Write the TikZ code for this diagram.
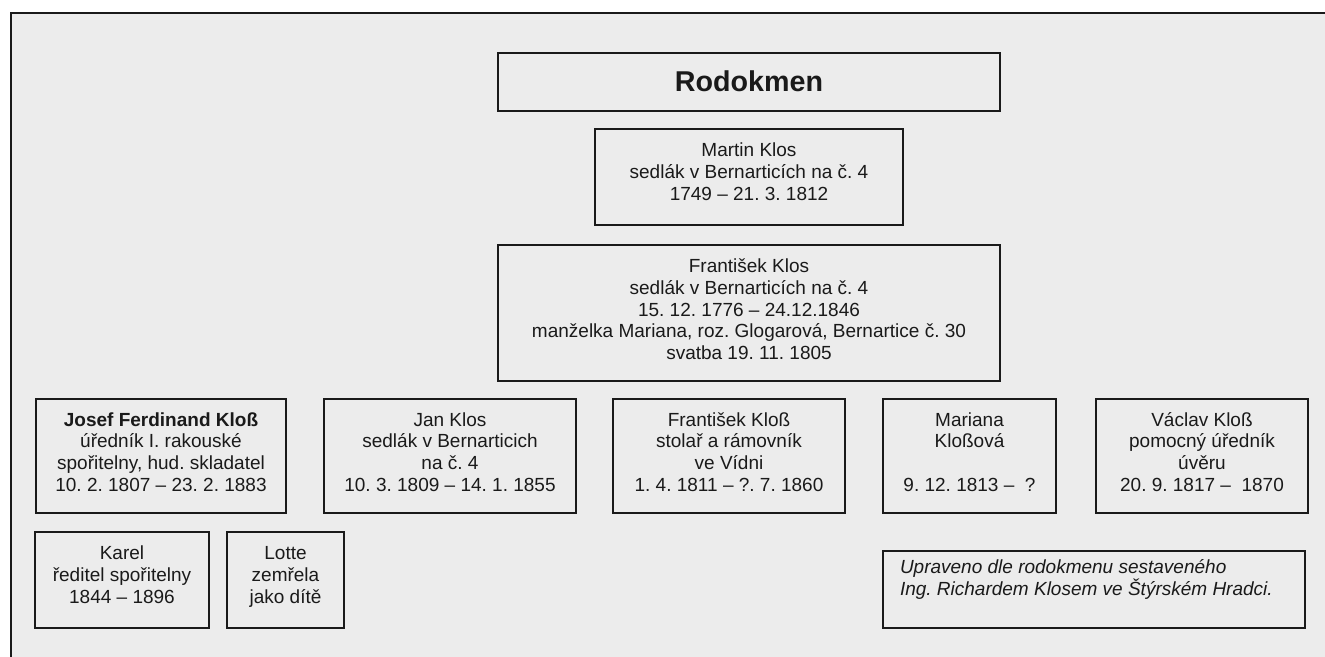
\documentclass[tikz,border=0pt]{standalone}
\usepackage{fontspec}
\setmainfont{Liberation Sans}
\frenchspacing
\definecolor{bg}{RGB}{236,236,236}
\definecolor{ink}{RGB}{26,26,26}
\newcommand{\hs}{\rule{0pt}{14pt}}
\newcommand{\ds}{\rule[-14pt]{0pt}{14pt}}
\tikzset{
  pbox/.style={draw=ink, line width=1.4pt, rectangle, inner sep=0pt, outer sep=0pt},
  titlebox/.style={pbox, line width=2.1pt},
  ptext/.style={align=center, inner sep=0pt, outer sep=0pt, text=ink,
    font=\fontsize{14.25pt}{16.3pt}\selectfont\frenchspacing},
  notetext/.style={align=left, inner sep=0pt, outer sep=0pt, text=ink,
    font=\fontsize{14.25pt}{16.3pt}\selectfont\itshape\frenchspacing},
  titletext/.style={inner sep=0pt, outer sep=0pt, text=ink,
    font=\fontsize{21.5pt}{24pt}\selectfont\bfseries},
  frameline/.style={draw=ink, line width=1.1pt}
}
\begin{document}
\begin{tikzpicture}[x=0.75pt,y=-0.75pt]
\useasboundingbox (0,0) rectangle (1325,657);
\fill[white] (0,0) rectangle (1325,657);
\fill[bg] (11,13) rectangle (1325,657);
\coordinate (fTR) at (1325,13);
\coordinate (fTL) at (11,13);
\coordinate (fBL) at (11,657);
\draw[frameline] (fTR) -- (fTL) -- (fBL);

% title
\node[titlebox, minimum width=376.5pt, minimum height=43.5pt] (title) at (749,82) {};
\node[titletext, anchor=base] (titleT) at (749,91.7) {Rodokmen};

% Martin
\node[pbox, minimum width=231pt, minimum height=72pt] (martin) at (749,177) {};
\node[ptext] (martinT) at (749,178.3) {\hs Martin Klos\\sedlák v Bernarticích na č. 4\\1749 – 21. 3. 1812\ds};

% František
\node[pbox, minimum width=376.5pt, minimum height=102pt] (frantisek) at (749,313) {};
\node[ptext] (frantisekT) at (749,316) {\hs František Klos\\sedlák v Bernarticích na č. 4\\15. 12. 1776 – 24.12.1846\\manželka Mariana, roz. Glogarová, Bernartice č. 30\\svatba 19. 11. 1805\ds};

% children row
\node[pbox, minimum width=187.5pt, minimum height=85.5pt] (josef) at (161,456) {};
\node[ptext] (josefT) at (161,458.7) {\hs\textbf{Josef Ferdinand Kloß}\\úředník I. rakouské\\spořitelny, hud. skladatel\\10. 2. 1807 – 23. 2. 1883\ds};

\node[pbox, minimum width=189pt, minimum height=85.5pt] (jan) at (450,456) {};
\node[ptext] (janT) at (450,458.7) {\hs Jan Klos\\sedlák v Bernarticich\\na č. 4\\10. 3. 1809 – 14. 1. 1855\ds};

\node[pbox, minimum width=174pt, minimum height=85.5pt] (frk) at (729,456) {};
\node[ptext] (frkT) at (729,458.7) {\hs František Kloß\\stolař a rámovník\\ve Vídni\\1. 4. 1811 – ?. 7. 1860\ds};

\node[pbox, minimum width=129.75pt, minimum height=85.5pt] (mariana) at (969.5,456) {};
\node[ptext] (marianaT) at (969.5,458.7) {\hs Mariana\\Kloßová\\[16.3pt]9. 12. 1813 –~ ?\ds};

\node[pbox, minimum width=159pt, minimum height=85.5pt] (vaclav) at (1202,456) {};
\node[ptext] (vaclavT) at (1202,458.7) {\hs Václav Kloß\\pomocný úředník\\úvěru\\20. 9. 1817 –~ 1870\ds};

% grandchildren
\node[pbox, minimum width=130.5pt, minimum height=72pt] (karel) at (122,580) {};
\node[ptext] (karelT) at (122,581.3) {\hs Karel\\ředitel spořitelny\\1844 – 1896\ds};

\node[pbox, minimum width=87.75pt, minimum height=72pt] (lotte) at (285.5,580) {};
\node[ptext] (lotteT) at (285.5,581.3) {\hs Lotte\\zemřela\\jako dítě\ds};

% note
\node[pbox, minimum width=316.5pt, minimum height=57.75pt] (note) at (1094,589.5) {};
\node[notetext, anchor=west] (noteT) at (900,584.2) {\hs Upraveno dle rodokmenu sestaveného\\Ing. Richardem Klosem ve Štýrském Hradci.\ds};
\end{tikzpicture}
\end{document}
